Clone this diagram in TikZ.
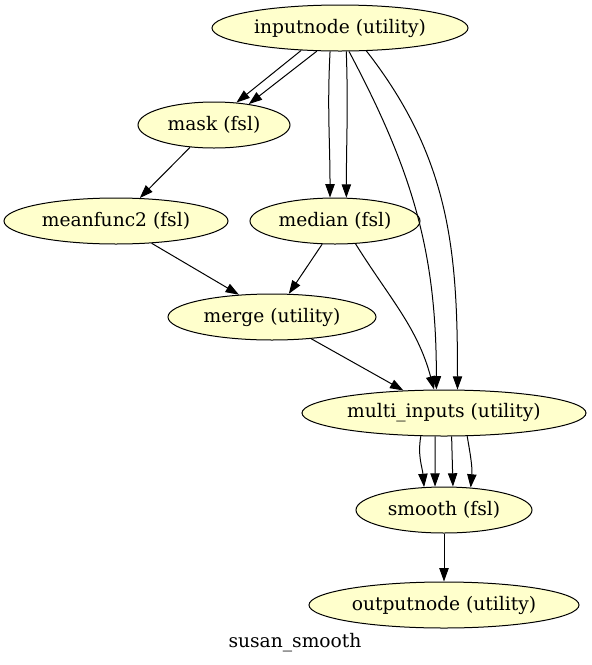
\documentclass[tikz,border=0pt]{standalone}
\usepackage{fontspec}
\setmainfont{DejaVu Serif}
\usepackage{tikz}
\usetikzlibrary{arrows.meta,shapes.geometric}
\definecolor{nodefill}{HTML}{FFFFCC}
\tikzset{
  wfnode/.style = {ellipse, draw, line width=0.75pt, fill=nodefill, inner sep=0pt,
                   minimum height=34.5pt, font=\fontsize{14}{17}\selectfont},
  wfedge/.style = {-{Triangle[length=10pt,width=7pt]}, line width=0.75pt}
}

\begin{document}
\begin{tikzpicture}[x=0.75pt,y=-0.75pt]
  \useasboundingbox (0,0) rectangle (592,665);
  % nodes
  \node[wfnode,minimum width=192pt]   (inputnode)  at (340,28)  {inputnode (utility)};
  \node[wfnode,minimum width=114pt]   (mask)       at (214,125) {mask (fsl)};
  \node[wfnode,minimum width=168pt]   (meanfunc)   at (116,221) {meanfunc2 (fsl)};
  \node[wfnode,minimum width=127.5pt] (median)     at (335,221) {median (fsl)};
  \node[wfnode,minimum width=156pt]   (merge)      at (272,317) {merge (utility)};
  \node[wfnode,minimum width=213pt]   (multi)      at (444,413) {multi\_inputs (utility)};
  \node[wfnode,minimum width=132pt]   (smooth)     at (444,510) {smooth (fsl)};
  \node[wfnode,minimum width=202.5pt] (outputnode) at (444,605) {outputnode (utility)};
  \node[font=\fontsize{14}{17}\selectfont] (title) at (295,643) {susan\_smooth};
  % edges
  \draw[wfedge] (inputnode.-150) -- (mask.45);
  \draw[wfedge] (inputnode.-135) -- (mask.31);
  \draw[wfedge] (inputnode.-113) to[out=-93,in=90] (median.102);
  \draw[wfedge] (inputnode.-75)  to[out=-88,in=90] (median.64);
  \draw[wfedge] (inputnode.-69)  to[out=-62,in=90] (multi.108);
  \draw[wfedge] (inputnode.-41)  to[out=-52,in=90] (multi.60);
  \draw[wfedge] (mask.-137) -- (meanfunc.44);
  \draw[wfedge] (meanfunc.-32) -- (merge.146);
  \draw[wfedge] (median.-119) -- (merge.54);
  \draw[wfedge] (median.-48) to[out=-58,in=105] (multi.113);
  \draw[wfedge] (merge.-29) -- (multi.151);
  \draw[wfedge] (multi.-135) to[out=-100,in=95] (smooth.131);
  \draw[wfedge] (multi.-111) -- (smooth.111);
  \draw[wfedge] (multi.-72)  -- (smooth.69);
  \draw[wfedge] (multi.-45)  to[out=-80,in=85] (smooth.40);
  \draw[wfedge] (smooth) -- (outputnode);
\end{tikzpicture}
\end{document}
